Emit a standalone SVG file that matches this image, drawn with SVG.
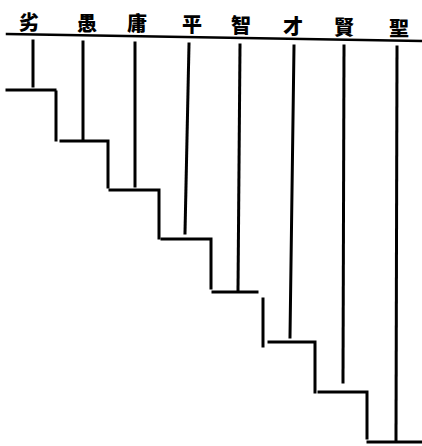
<svg xmlns="http://www.w3.org/2000/svg" width="422" height="446" viewBox="0 0 422 446">
<style>
.t{font-family:"Noto Sans CJK TC","Noto Sans CJK SC",sans-serif;font-size:20px;font-weight:900;fill:#000;text-anchor:middle}
.l{stroke:#000;stroke-width:3;fill:none;stroke-linecap:square}
</style>
<rect width="422" height="446" fill="#fff"/>
<g id="labels">
<g id="n1"><text class="t" x="29" y="30">劣</text></g>
<g id="n2"><text class="t" x="87" y="31">愚</text></g>
<g id="n3"><text class="t" x="137" y="31">庸</text></g>
<g id="n4"><text class="t" x="192" y="32">平</text></g>
<g id="n5"><text class="t" x="241" y="33">智</text></g>
<g id="n6"><text class="t" x="293" y="34">才</text></g>
<g id="n7"><text class="t" x="344" y="35">賢</text></g>
<g id="n8"><text class="t" x="399" y="36">聖</text></g>
</g>
<g id="connectors" class="l">
<line x1="7" y1="34" x2="422" y2="41" stroke-width="2.5"/>
<line x1="33" y1="41" x2="33" y2="86"/>
<line x1="83" y1="42" x2="83" y2="139"/>
<line x1="135" y1="43" x2="135" y2="186"/>
<line x1="189" y1="44" x2="185" y2="233"/>
<line x1="240" y1="45" x2="238" y2="290"/>
<line x1="294" y1="46" x2="290" y2="337"/>
<line x1="344" y1="46" x2="343" y2="382"/>
<line x1="397" y1="47" x2="396" y2="440"/>
<polyline points="7,90 55,90"/>
<polyline points="56,92 56,140"/>
<polyline points="61,141 108,141 108,187"/>
<polyline points="110,190 159,190 159,238"/>
<polyline points="162,239 211,239 211,288"/>
<polyline points="213,292 257,292"/>
<polyline points="263,299 263,346"/>
<polyline points="269,342 315,342 315,392"/>
<polyline points="319,392 367,392 367,438"/>
<polyline points="368,442 422,442"/>
</g>
</svg>
